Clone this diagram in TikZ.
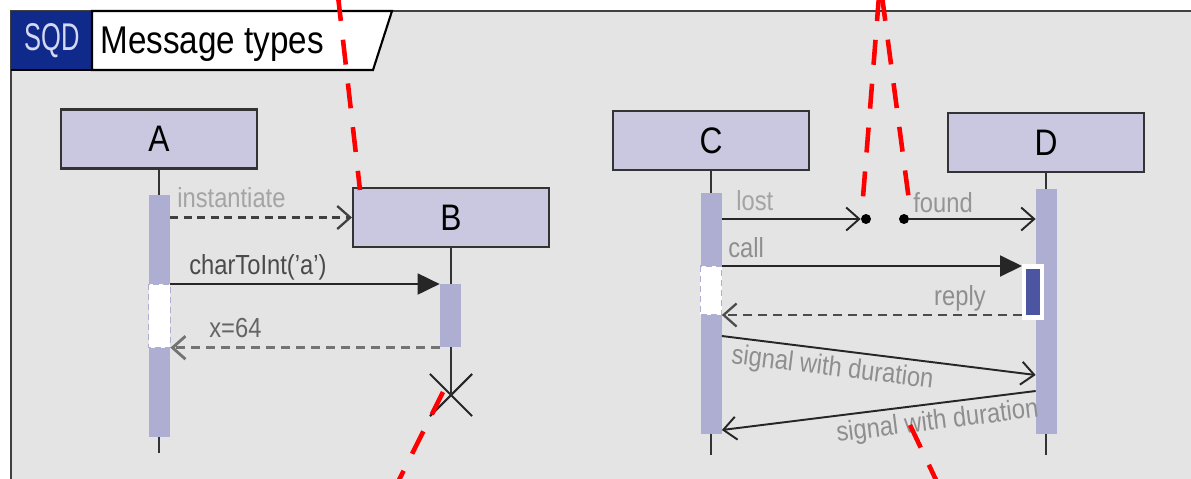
\documentclass[tikz,border=0pt]{standalone}
\usepackage{fontspec}
\setmainfont{Liberation Sans}[FakeStretch=0.86]
\newfontfamily\sqdfont{Liberation Sans}[FakeStretch=0.66]
\usetikzlibrary{arrows.meta, shapes.misc}

\definecolor{framegray}{HTML}{E4E4E4}
\definecolor{objfill}{HTML}{C9C8E0}
\definecolor{actfill}{HTML}{AEAED2}
\definecolor{actdark}{HTML}{4B55A2}
\definecolor{sqdblue}{HTML}{102A8C}
\definecolor{sqdtext}{HTML}{D4D8F2}
\definecolor{lightlabel}{HTML}{A4A4A4}
\definecolor{midlabel}{HTML}{8E8E8E}
\definecolor{darklabel}{HTML}{4A4A4A}

\tikzstyle{object} = [
    rectangle,
    minimum width=3.92cm,
    minimum height=1.18cm,
    draw=black!80,
    line width=1.2pt,
    fill=objfill,
    font=\fontsize{21}{23}\selectfont
]
\tikzstyle{activation} = [
    rectangle,
    minimum width=0.42cm,
    inner sep=0pt,
    fill=actfill
]
\tikzstyle{gap} = [
    fill=white,
    draw=actfill,
    line width=0.6pt,
    dash pattern=on 0.12cm off 0.08cm
]
\tikzstyle{lifeline} = [line width=1pt, draw=black!80]
\tikzstyle{destroy} = [cross out, draw=black!85, line width=1.2pt, minimum size=0.8cm, inner sep=0pt]
\tikzstyle{msgdot} = [circle, fill=black, minimum size=0.2cm, inner sep=0pt]
\tikzstyle{msglabel} = [font=\fontsize{15.7}{17}\selectfont, inner sep=0pt]
\tikzstyle{sync} = [line width=1.1pt, draw=black!85, -{Triangle[length=0.44cm,width=0.42cm]}]
\tikzstyle{async} = [line width=1.1pt, draw=black!85, -{Straight Barb[length=0.26cm,width=0.46cm]}]
\tikzstyle{create} = [async, line width=1.3pt, draw=black!75, dash pattern=on 0.16cm off 0.11cm]
\tikzstyle{return} = [async, line width=1.3pt, draw=black!70, dash pattern=on 0.18cm off 0.12cm]
\tikzstyle{redline} = [red, line width=2.6pt, dash pattern=on 0.5cm off 0.38cm]

\begin{document}
\begin{tikzpicture}[x=0.02cm, y=-0.02cm]

\useasboundingbox (0,0) rectangle (1191,478);

\fill[framegray] (11,11) rectangle (1200,490);
\draw[black!75, line width=1.5pt] (1200,11) -- (11,11) -- (11,490);

\fill[sqdblue] (11,11) rectangle (92,70);
\draw[fill=white, line width=1.2pt] (92,11) -- (392,11) -- (373,70) -- (92,70) -- cycle;
\draw[line width=1.2pt] (11,70) -- (92,70);

\node (sqd) [text=sqdtext, font=\sqdfont\fontsize{22}{24}\selectfont] at (52,41) {SQD};
\node (title) [anchor=base west, inner sep=0pt, font=\fontsize{22}{24}\selectfont] at (100,53) {Message types};

\node (A) [object] at (159,139) {A};
\node (B) [object] at (451,217.5) {B};
\node (C) [object] at (711,140.5) {C};
\node (D) [object] at (1046,142.5) {D};

\node (endB) [destroy] at (451,395) {};

\draw[lifeline] (A) -- (A |- 0,453);
\draw[lifeline] (B) -- (endB.center);
\draw[lifeline] (C) -- (C |- 0,455);
\draw[lifeline] (D) -- (D |- 0,455);

\node (actA) [activation, anchor=north, minimum height=4.84cm] at (159.5,195) {};
\node (actB) [activation, anchor=north, minimum height=1.26cm] at (450.5,284) {};
\node (actC) [activation, anchor=north, minimum height=4.82cm] at (711,193) {};
\node (actD) [activation, anchor=north, minimum height=4.9cm] at (1046.5,189) {};

\node (nestD) [rectangle, fill=white, minimum width=0.44cm, minimum height=1.12cm, inner sep=0pt] at (1033,292) {};
\node (nestDin) [rectangle, fill=actdark, minimum width=0.28cm, minimum height=0.92cm, inner sep=0pt] at (1033,292) {};

\coordinate (callEnd) at (1022,266);
\coordinate (replyStart) at (1022,315);

\draw[gap] (actA.west |- actB.north) rectangle (actA.east |- actB.south);
\draw[gap] (actC.west |- callEnd) rectangle (actC.east |- replyStart);

\draw[create] (actA.east |- B.west) -- (B.west);
\node (lblInst) [msglabel, text=lightlabel, anchor=base west] at (177,207) {instantiate};

\draw[sync] (actA.east |- actB.north) -- (actB.north west);
\node (lblChar) [msglabel, text=darklabel, anchor=base west] at (189,274) {charToInt('a')};

\draw[return, line width=1.6pt, draw=black!55] (actB.south west) -- (actA.east |- actB.south west);
\node (lblX) [msglabel, text=darklabel!85, anchor=base west] at (209,337) {x=64};

\node (lostDot) [msgdot] at (866,219) {};
\node (foundDot) [msgdot] at (904,219) {};

\draw[async] (actC.east |- lostDot) -- (lostDot);
\node (lblLost) [msglabel, text=lightlabel, anchor=base west] at (736,210) {lost};

\draw[async] (foundDot) -- (actD.west |- foundDot);
\node (lblFound) [msglabel, text=lightlabel!90!black, anchor=base west] at (913,212) {found};

\draw[sync] (actC.east |- callEnd) -- (callEnd);
\node (lblCall) [msglabel, text=midlabel, anchor=base west] at (728,257) {call};

\draw[return] (replyStart) -- (actC.east |- replyStart);
\node (lblReply) [msglabel, text=midlabel, anchor=base east] at (986,305) {reply};

\coordinate (sigOneStart) at (actC.east |- 0,336);
\coordinate (sigOneEnd) at (actD.west |- 0,375);
\coordinate (sigTwoStart) at (actD.west |- 0,391);
\coordinate (sigTwoEnd) at (actC.east |- 0,430);

\draw[async] (sigOneStart) -- (sigOneEnd)
    node (lblSigOne) [msglabel, text=midlabel, sloped, below=0.1cm, pos=0.36] {signal with duration};
\draw[async] (sigTwoStart) -- (sigTwoEnd)
    node (lblSigTwo) [msglabel, text=midlabel, sloped, below=0.1cm, pos=0.32] {signal with duration};

\draw[redline] (338,-4) -- (360,190);
\draw[redline] (443,392) -- (398,482);
\draw[redline] (879,-4) -- (862,210);
\draw[redline] (882,-4) -- (910,208);
\draw[redline] (910,425) -- (937,482);

\end{tikzpicture}
\end{document}
